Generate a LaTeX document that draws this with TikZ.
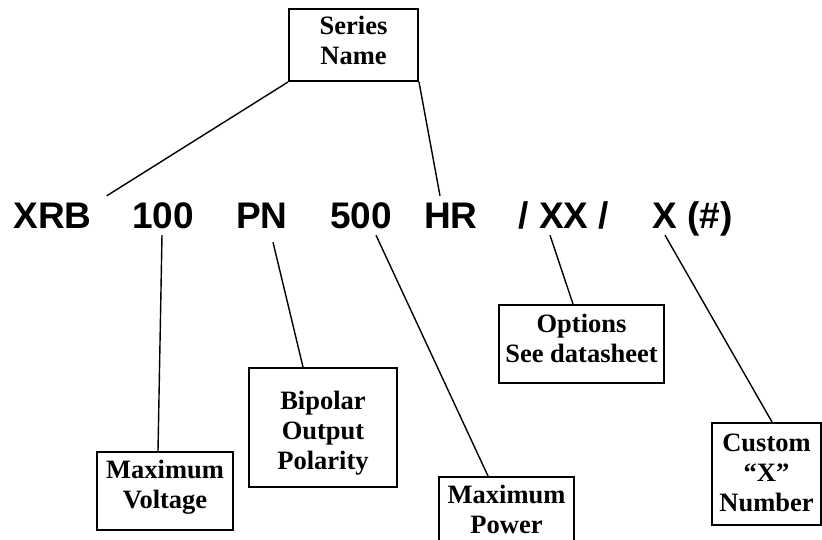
\documentclass[tikz,border=0pt]{standalone}
\usepackage{fontspec}
\setmainfont{Liberation Serif}
\setsansfont{Liberation Sans}

\tikzset{
  partno/.style={font=\sffamily\bfseries\fontsize{37}{40}\selectfont, inner sep=6pt,
    text height=27pt, text depth=0pt, anchor=base},
  namebox/.style={draw, line width=2pt, inner sep=0pt, align=center,
    font=\bfseries\fontsize{26.5}{30}\selectfont, text height=#1, text depth=0pt},
  lead/.style={line width=1.4pt},
}

\begin{document}
\begin{tikzpicture}[x=1pt,y=-1pt]
    \clip (0,0) rectangle (822,540);
    % the part number
    \node[partno] (xrb) at (52.5,229) {XRB};
    \node[partno] (w100) at (163,229) {100};
    \node[partno] (pn) at (262,229) {PN};
    \node[partno] (w500) at (361,229) {500};
    \node[partno] (hr) at (451,229) {HR};
    \node[partno] (xx) at (564,229) {/ XX /};
    \node[partno] (xn) at (692.5,229) {X (\#)};
    % what each field means
    \node[namebox=40pt, minimum width=129pt, minimum height=72pt] (series) at (353.5,45) {Series\\Name};
    \node[namebox=34pt, minimum width=136pt, minimum height=78pt] (mv) at (165,491) {Maximum\\Voltage};
    \node[namebox=83pt, minimum width=148pt, minimum height=119pt] (bo) at (323,427.5) {Bipolar\\Output\\Polarity};
    \node[namebox=34pt, minimum width=135pt, minimum height=78pt] (mp) at (506.5,516) {Maximum\\Power};
    \node[namebox=36pt, minimum width=165pt, minimum height=78pt] (op) at (581.5,344) {Options\\See datasheet};
    \node[namebox=74pt, minimum width=109pt, minimum height=102pt] (cx) at (766.5,474) {Custom\\``X''\\Number};
    \draw[lead] ([xshift=9pt]xrb.north east) -- (series.south west);
    \draw[lead] ([xshift=-11pt]hr.north) -- (series.south east);
    \draw[lead] ([xshift=-1pt]w100.south) -- ([xshift=-7pt]mv.north);
    \draw[lead] ([xshift=11pt,yshift=-7pt]pn.south) -- ([xshift=-20pt]bo.north);
    \draw[lead] ([xshift=15pt]w500.south) -- ([xshift=-18.5pt]mp.north);
    \draw[lead] ([xshift=-14pt]xx.south) -- ([xshift=-8.5pt]op.north);
    \draw[lead] ([xshift=-27.5pt]xn.south) -- ([xshift=5.5pt]cx.north);
\end{tikzpicture}
\end{document}
